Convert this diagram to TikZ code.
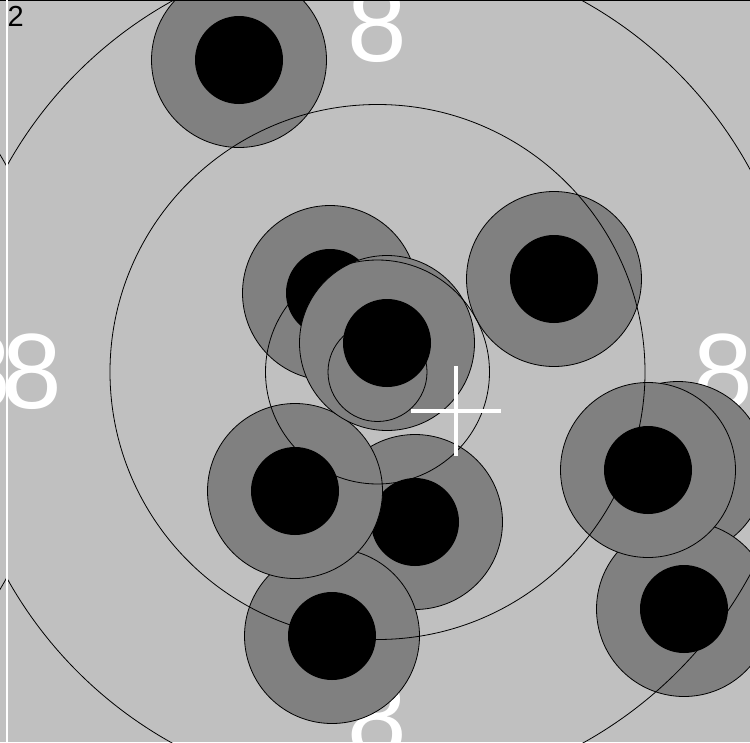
\documentclass[tikz,border=0pt]{standalone}
\usepackage{fontspec}
\setmainfont{Liberation Sans}
\definecolor{targetbg}{RGB}{192,192,192}
\definecolor{shotgray}{RGB}{128,128,128}
\tikzset{
  ringline/.style={draw=black,line width=0.8pt},
  shotring/.style={fill=shotgray,draw=black,line width=0.8pt},
  shothole/.style={fill=black},
  scorelbl/.style={text=white,inner sep=0pt,font=\fontsize{107}{107}\selectfont},
  crossbar/.style={draw=white,line width=4pt},
  cardnum/.style={text=black,inner sep=0pt,anchor=north west,font=\fontsize{29}{29}\selectfont}
}

\begin{document}
\begin{tikzpicture}[x=1pt,y=-1pt]
  \useasboundingbox (0,0) rectangle (750,742);
  \clip (0,0) rectangle (750,742);
  \fill[targetbg] (0,0) rectangle (750,742);
  % ring numbers
  \node[scorelbl] (ntop) at (377.5,25) {8};
  \node[scorelbl] (nbottom) at (377.5,719) {8};
  \node[scorelbl] (nleft) at (32,372) {8};
  \node[scorelbl] (nright) at (723,372) {8};
  % shots, back to front
  \foreach \sx/\sy in {239/60, 415/522, 332/636, 295/491, 330/293, 387/343,
                       554/279, 678/469, 684/609, 648/470} {
    \filldraw[shotring] (\sx,\sy) circle (87.5);
    \fill[shothole] (\sx,\sy) circle (44);
  }
  % rings
  \foreach \r in {49.5,112,267.5,424}
    \draw[ringline] (377.5,372) circle (\r);
  % aiming cross
  \coordinate (aim) at (456,411);
  \draw[crossbar] ([xshift=-45pt]aim) -- ([xshift=45pt]aim);
  \draw[crossbar] ([yshift=45pt]aim) -- ([yshift=-45pt]aim);
  % mirrored strip at the left edge
  \begin{scope}
    \clip (0,0) rectangle (6.7,742);
    \fill[targetbg] (0,0) rectangle (6.7,742);
    \draw[ringline] (-364.1,372) circle (424);
    \node[scorelbl] (nmirror) at (-18.6,372) {8};
  \end{scope}
  \draw[black,line width=1.2pt] (0,0.6) -- (750,0.6);
  \draw[white,line width=2pt] (6.7,0) -- (6.7,742);
  \node[cardnum] (card) at (7.5,6.5) {2};
\end{tikzpicture}
\end{document}
